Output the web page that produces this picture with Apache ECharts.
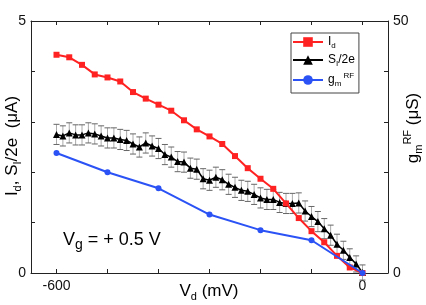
<!DOCTYPE html>
<html><head><meta charset="utf-8">
<script src="https://cdn.jsdelivr.net/npm/echarts@6/dist/echarts.min.js"></script>
<style>html,body{margin:0;padding:0;background:#fff}#c{width:426px;height:305px}</style>
</head><body><div id="c"></div>
<script>
// Drain current I_d (uA) vs Vd (mV)
const idVd = [-600,-575,-550,-525,-500,-475,-450,-425,-400,-375,-350,-325,-300,-275,-250,-225,-200,-175,-150,-125,-100,-75,-50,-25,0];
const idVals = [4.33,4.28,4.13,3.94,3.88,3.80,3.59,3.46,3.34,3.22,3.03,2.85,2.71,2.56,2.32,2.08,1.87,1.67,1.38,1.09,0.83,0.61,0.34,0.11,0.0];
// Shot noise S_I/2e (uA) with error bars
const siVd = [-600,-587.5,-575,-562.5,-550,-537.5,-525,-512.5,-500,-487.5,-475,-462.5,-450,-437.5,-425,-412.5,-400,-387.5,-375,-362.5,-350,-337.5,-325,-312.5,-300,-287.5,-275,-262.5,-250,-237.5,-225,-212.5,-200,-187.5,-175,-162.5,-150,-137.5,-125,-112.5,-100,-87.5,-75,-62.5,-50,-37.5,-25,-12.5,0];
const siVals = [2.75,2.72,2.78,2.74,2.74,2.78,2.76,2.72,2.68,2.68,2.65,2.63,2.56,2.50,2.58,2.52,2.47,2.35,2.30,2.21,2.20,2.08,2.06,1.87,1.84,1.90,1.85,1.76,1.70,1.64,1.62,1.56,1.49,1.46,1.46,1.40,1.38,1.38,1.39,1.23,1.12,1.02,0.88,0.75,0.57,0.45,0.31,0.18,0.01];
const siErr = [0.2,0.2,0.2,0.2,0.2,0.2,0.2,0.2,0.2,0.2,0.2,0.2,0.2,0.2,0.2,0.2,0.2,0.2,0.2,0.2,0.2,0.2,0.2,0.2,0.2,0.2,0.2,0.2,0.2,0.2,0.2,0.2,0.2,0.2,0.2,0.2,0.2,0.2,0.2,0.2,0.2,0.2,0.2,0.2,0.2,0.18,0.17,0.16,0.15];
// RF transconductance g_m (uS)
const gmVd = [-600,-500,-400,-300,-200,-100,0];
const gmVals = [23.8,20.0,16.8,11.6,8.5,6.5,0.0];
// axis ticks / labels
const xTicks = [-600,-500,-400,-300,-200,-100,0];
const xLabels = [-600,0];
const yTicks = [0,1,2,3,4,5];
const yLabels = [0,5];
const y2Ticks = [0,10,20,30,40,50];
const y2Labels = [0,50];

const FONT = 'Liberation Sans, Arial, sans-serif';
const AX = '#222';
const RED = '#ff2222';
const BLUE = '#2a52f5';

const chart = echarts.init(document.getElementById('c'), null, {renderer:'canvas'});
const zip = (a,b)=>a.map((v,i)=>[v,b[i]]);

const richSub = {
  a:{fontSize:12, fontFamily:FONT, color:'#000', lineHeight:16, verticalAlign:'middle'},
  s:{fontSize:8, fontFamily:FONT, color:'#000', lineHeight:8, verticalAlign:'bottom'},
  p:{fontSize:8, fontFamily:FONT, color:'#000', lineHeight:8, verticalAlign:'top'}
};
const legendText = {Id:'{a|I}{s|d}', SI:'{a|S}{s|I}{a|/2e}', gm:'{a|g}{s|m}{p| RF}'};
const titleRich = {
  a:{fontSize:17, fontFamily:FONT, fill:'#000', lineHeight:22, verticalAlign:'middle'},
  s:{fontSize:11, fontFamily:FONT, fill:'#000', lineHeight:11, verticalAlign:'bottom'},
  p:{fontSize:11, fontFamily:FONT, fill:'#000', lineHeight:11, verticalAlign:'top'}
};

const option = {
  animation:false,
  backgroundColor:'#fff',
  grid:{left:31, right:38, top:21, bottom:32, containLabel:false, outerBoundsMode:'none'},
  xAxis:[{
    type:'value', min:-650, max:50, position:'bottom',
    axisLine:{show:true, onZero:false, lineStyle:{color:AX, width:1}},
    axisTick:{show:true, inside:true, length:4, customValues:xTicks, lineStyle:{color:AX}},
    axisLabel:{show:true, customValues:xLabels, fontSize:14, fontFamily:FONT, color:'#111', margin:6},
    splitLine:{show:false}
  },{
    type:'value', min:-650, max:50, position:'top',
    axisLine:{show:true, onZero:false, lineStyle:{color:AX, width:1}},
    axisTick:{show:true, inside:true, length:4, customValues:xTicks, lineStyle:{color:AX}},
    axisLabel:{show:false}, splitLine:{show:false}
  }],
  yAxis:[{
    type:'value', min:0, max:5, position:'left',
    axisLine:{show:true, onZero:false, lineStyle:{color:AX, width:1}},
    axisTick:{show:true, inside:true, length:4, customValues:yTicks, lineStyle:{color:AX}},
    axisLabel:{show:true, customValues:yLabels, fontSize:14, fontFamily:FONT, color:'#111', margin:5},
    splitLine:{show:false}
  },{
    type:'value', min:0, max:50, position:'right',
    axisLine:{show:true, onZero:false, lineStyle:{color:AX, width:1}},
    axisTick:{show:true, inside:true, length:4, customValues:y2Ticks, lineStyle:{color:AX}},
    axisLabel:{show:true, customValues:y2Labels, fontSize:14, fontFamily:FONT, color:'#111', margin:5},
    splitLine:{show:false}
  }],
  legend:{
    orient:'vertical', left:291, top:33,
    padding:[3,4,5,1], itemGap:4, itemWidth:30, itemHeight:12,
    borderColor:'#444', borderWidth:1, borderRadius:0, backgroundColor:'#fff',
    data:['Id','SI','gm'],
    formatter:n=>legendText[n],
    textStyle:{fontSize:12, fontFamily:FONT, color:'#000', rich:richSub}
  },
  graphic:[
    {type:'text', x:12, y:146, rotation:Math.PI/2,
     style:{text:'{a|I}{s|d}{a|, S}{s|I}{a|/2e  (μA)}', align:'center', verticalAlign:'middle', rich:titleRich}},
    {type:'text', x:413, y:128, rotation:Math.PI/2,
     style:{text:'{a|g}{s|m}{p|RF}{a| (μS)}', align:'center', verticalAlign:'middle', rich:titleRich}},
    {type:'text', x:209, y:291,
     style:{text:'{a|V}{s|d}{a| (mV)}', align:'center', verticalAlign:'middle', rich:titleRich}},
    {type:'text', x:63, y:240,
     style:{text:'{a|V}{s|g}{a| = + 0.5 V}', align:'left', verticalAlign:'middle',
       rich:{a:{fontSize:18, fontFamily:FONT, fill:'#000', lineHeight:24, verticalAlign:'middle'},
             s:{fontSize:14, fontFamily:FONT, fill:'#000', lineHeight:14, verticalAlign:'bottom'}}}}
  ],
  series:[
    {
      type:'custom', name:'err', xAxisIndex:0, yAxisIndex:0, z:1, silent:true,
      data:siVd.map((v,i)=>[v, siVals[i], siErr[i]]),
      renderItem:(params, api)=>{
        const x=api.value(0), y=api.value(1), e=api.value(2);
        const t=api.coord([x, y+e]), b=api.coord([x, y-e]);
        const hw=3;
        return {type:'group', children:[
          {type:'line', shape:{x1:t[0],y1:t[1],x2:b[0],y2:b[1]}, style:{stroke:'#aaa', lineWidth:1}},
          {type:'line', shape:{x1:t[0]-hw,y1:t[1],x2:t[0]+hw,y2:t[1]}, style:{stroke:'#666', lineWidth:1}},
          {type:'line', shape:{x1:b[0]-hw,y1:b[1],x2:b[0]+hw,y2:b[1]}, style:{stroke:'#666', lineWidth:1}}
        ]};
      }
    },
    {
      type:'line', name:'SI', xAxisIndex:0, yAxisIndex:0, z:2,
      data:zip(siVd, siVals), symbol:'triangle', symbolSize:7, showAllSymbol:true,
      lineStyle:{color:'#000', width:1.5}, itemStyle:{color:'#000'}
    },
    {
      type:'line', name:'Id', xAxisIndex:0, yAxisIndex:0, z:3,
      data:zip(idVd, idVals), symbol:'rect', symbolSize:6, showAllSymbol:true,
      lineStyle:{color:RED, width:2}, itemStyle:{color:RED}
    },
    {
      type:'line', name:'gm', xAxisIndex:0, yAxisIndex:1, z:4,
      data:zip(gmVd, gmVals), symbol:'circle', symbolSize:6, showAllSymbol:true,
      lineStyle:{color:BLUE, width:2}, itemStyle:{color:BLUE}
    }
  ]
};
chart.setOption(option);
</script>
</body></html>
